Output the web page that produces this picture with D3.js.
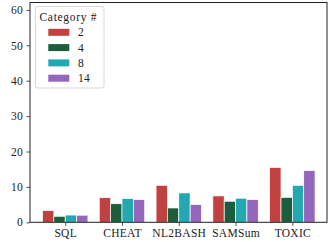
<!DOCTYPE html>
<html>
<head>
<meta charset="utf-8">
<script src="https://cdn.jsdelivr.net/npm/d3@7"></script>
<style>
  body { margin: 0; background: #fff; }
  svg text { font-family: "Liberation Serif", serif; fill: #222; }
</style>
</head>
<body>
<div id="wrapper"></div>
<script>
const datasets = ['SQL', 'CHEAT', 'NL2BASH', 'SAMSum', 'TOXIC'];
const categories = ['2', '4', '8', '14'];
const cat2 = [3.3, 6.95, 10.45, 7.45, 15.5];
const cat4 = [1.7, 5.25, 4.05, 5.95, 7.05];
const cat8 = [2.05, 6.7, 8.3, 6.8, 10.45];
const cat14 = [2.0, 6.4, 5.0, 6.4, 14.6];
const yTicks = [0, 10, 20, 30, 40, 50, 60];
const colors = ['#c0413f', '#1c5e3c', '#23a8b1', '#9467bd'];

function drawBarChart() {
  const series = [cat2, cat4, cat8, cat14];
  const fontSize = '11.5px';

  let dimensions = {
    width: 332,
    height: 242,
    margins: { top: 2.5, right: 5, bottom: 19.7, left: 30 }
  };
  dimensions.boundedWidth = dimensions.width - dimensions.margins.left - dimensions.margins.right;
  dimensions.boundedHeight = dimensions.height - dimensions.margins.top - dimensions.margins.bottom;

  const wrapper = d3.select('#wrapper')
    .append('svg')
      .attr('width', dimensions.width)
      .attr('height', dimensions.height);

  const bounds = wrapper.append('g')
      .attr('transform', `translate(${dimensions.margins.left},${dimensions.margins.top})`);

  const xScale = d3.scaleLinear()
    .domain([-0.62, datasets.length - 1 + 0.61])
    .range([0, dimensions.boundedWidth]);

  const yScale = d3.scaleLinear()
    .domain([0, 62.1])
    .range([dimensions.boundedHeight, 0]);

  const barW = 0.2;
  series.forEach((vals, k) => {
    const offset = (k - 1.5) * barW;
    bounds.append('g')
      .selectAll('rect')
      .data(vals)
      .join('rect')
        .attr('x', (d, i) => xScale(i + offset - barW / 2))
        .attr('width', xScale(barW) - xScale(0))
        .attr('y', d => yScale(d))
        .attr('height', d => yScale(0) - yScale(d))
        .attr('fill', colors[k])
        .attr('stroke', '#fff')
        .attr('stroke-width', 0.7);
  });

  const yAxis = bounds.append('g')
      .call(d3.axisLeft(yScale).tickValues(yTicks).tickSize(3.5).tickPadding(3.5));

  const xAxis = bounds.append('g')
      .attr('transform', `translate(0,${dimensions.boundedHeight})`)
      .call(d3.axisBottom(xScale)
        .tickValues(d3.range(datasets.length))
        .tickFormat(i => datasets[i])
        .tickSize(3.5).tickPadding(3.5));

  [yAxis, xAxis].forEach(ax => {
    ax.select('.domain').remove();
    ax.selectAll('line').attr('stroke', '#222').attr('stroke-width', 0.8);
    ax.selectAll('text')
      .attr('fill', '#222')
      .style('font-family', '"Liberation Serif", serif')
      .style('font-size', fontSize)
      .style('letter-spacing', '0.3px');
  });

  // frame
  bounds.append('rect')
      .attr('width', dimensions.boundedWidth)
      .attr('height', dimensions.boundedHeight)
      .attr('fill', 'none')
      .attr('stroke', '#222')
      .attr('stroke-width', 1);

  // legend
  const legend = wrapper.append('g').attr('transform', 'translate(35.5,6.5)');
  legend.append('rect')
      .attr('width', 68.5)
      .attr('height', 81.5)
      .attr('rx', 2)
      .attr('fill', '#fff')
      .attr('fill-opacity', 0.8)
      .attr('stroke', '#ccc')
      .attr('stroke-width', 0.8);
  legend.append('text')
      .attr('x', 4)
      .attr('y', 14)
      .style('font-size', fontSize)
      .style('letter-spacing', '0.7px')
      .text('Category #');
  const rows = legend.selectAll('.row')
    .data(categories)
    .join('g')
      .attr('class', 'row')
      .attr('transform', (d, i) => `translate(0,${25.8 + i * 15.3})`);
  rows.append('rect')
      .attr('x', 12.8)
      .attr('y', -3.5)
      .attr('width', 21)
      .attr('height', 7)
      .attr('fill', (d, i) => colors[i]);
  rows.append('text')
      .attr('x', 42.5)
      .attr('y', 4)
      .style('font-size', fontSize)
      .style('letter-spacing', '0.3px')
      .text(d => d);
}

drawBarChart();
</script>
</body>
</html>
